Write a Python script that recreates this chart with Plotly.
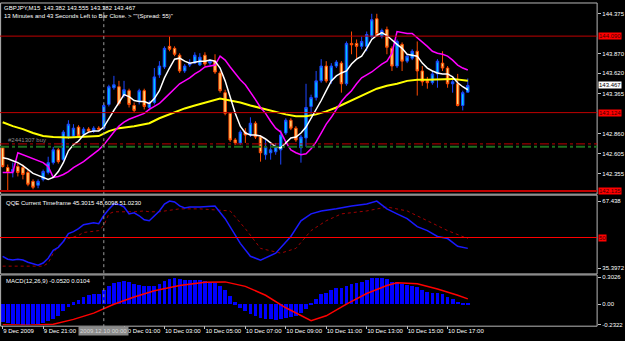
import plotly.graph_objects as go

# ---------------- data ----------------
bars = list(range(93))
opens = [142.679,142.430,142.380,142.443,142.430,142.368,142.256,142.206,142.281,142.368,
         142.492,142.654,142.530,142.816,142.828,142.941,142.853,142.916,142.891,142.928,
         142.928,143.227,143.438,143.451,143.339,143.401,143.214,143.264,143.401,143.189,
         143.252,143.600,143.700,143.961,143.936,143.849,143.650,143.725,143.749,143.725,
         143.849,143.749,143.774,143.625,143.376,143.115,142.779,142.741,142.878,142.841,
         142.990,142.816,142.592,142.617,142.629,142.654,142.866,143.028,142.928,142.679,
         142.804,143.202,143.314,143.525,143.712,143.525,143.712,143.749,143.488,143.998,
         143.998,143.961,143.961,144.085,144.309,144.085,144.173,143.936,143.712,143.986,
         143.774,143.812,143.899,143.650,143.525,143.501,143.613,143.749,143.687,143.488,
         143.488,143.214,143.382]
highs = [142.704,142.468,142.492,142.492,142.468,142.405,142.281,142.281,142.405,142.567,
         142.692,142.679,142.903,143.028,142.978,142.965,142.941,142.941,142.953,142.953,
         143.239,143.476,143.588,143.525,143.525,143.426,143.252,143.426,143.426,143.277,
         143.687,143.774,143.961,144.085,143.961,143.874,143.737,143.799,143.886,143.874,
         143.886,143.799,143.861,143.650,143.413,143.127,142.804,142.903,142.928,143.065,
         143.015,142.841,142.779,142.741,142.741,142.903,143.053,143.053,142.953,142.841,
         143.488,143.351,143.650,143.799,143.774,143.749,143.787,143.774,144.023,144.148,
         144.048,144.085,144.148,144.372,144.372,144.185,144.210,143.961,144.048,144.011,
         143.861,143.924,144.023,143.712,143.575,143.650,143.799,143.899,143.712,143.550,
         143.613,143.401,143.555]
lows = [142.430,142.132,142.306,142.318,142.281,142.194,142.156,142.169,142.256,142.343,
        142.468,142.480,142.505,142.791,142.804,142.804,142.828,142.866,142.866,142.891,
        142.903,143.202,143.413,143.214,143.314,143.189,143.127,143.227,143.164,143.152,
        143.227,143.563,143.675,143.899,143.837,143.625,143.625,143.700,143.737,143.712,
        143.712,143.725,143.613,143.376,143.090,142.754,142.717,142.717,142.741,142.816,
        142.791,142.505,142.530,142.530,142.592,142.468,142.841,142.903,142.754,142.492,
        142.692,143.090,143.277,143.501,143.501,143.488,143.687,143.376,143.463,143.861,
        143.812,143.924,143.899,144.061,144.085,144.061,143.861,143.650,143.687,143.650,
        143.749,143.787,143.339,143.463,143.426,143.476,143.438,143.650,143.438,143.376,
        143.202,143.152,143.382]
closes = [142.443,142.368,142.405,142.368,142.343,142.219,142.181,142.256,142.380,142.492,
          142.654,142.505,142.878,142.978,142.928,142.828,142.916,142.891,142.928,142.916,
          143.214,143.451,143.476,143.239,143.413,143.227,143.152,143.401,143.202,143.239,
          143.575,143.712,143.936,143.924,143.861,143.650,143.712,143.749,143.849,143.824,
          143.737,143.774,143.637,143.401,143.115,142.779,142.741,142.878,142.841,142.990,
          142.816,142.617,142.692,142.654,142.692,142.841,143.028,142.928,142.779,142.816,
          143.189,143.314,143.525,143.712,143.525,143.712,143.762,143.488,143.998,143.980,
          143.961,144.023,144.110,144.297,144.110,144.160,143.949,143.712,144.023,143.774,
          143.837,143.899,143.650,143.513,143.501,143.613,143.774,143.687,143.488,143.513,
          143.214,143.376,143.467]

white_ma = [142.555,142.542,142.517,142.492,142.455,142.405,142.356,142.331,142.306,142.281,
            142.306,142.380,142.492,142.642,142.717,142.766,142.841,142.878,142.891,142.891,
            142.941,143.053,143.152,143.252,143.351,143.326,143.277,143.264,143.264,143.239,
            143.301,143.401,143.563,143.687,143.799,143.812,143.774,143.749,143.762,143.774,
            143.774,143.787,143.774,143.687,143.525,143.314,143.115,142.953,142.866,142.841,
            142.841,142.828,142.791,142.741,142.692,142.679,142.741,142.804,142.816,142.866,
            142.941,143.053,143.152,143.277,143.401,143.525,143.588,143.625,143.650,143.737,
            143.799,143.837,143.936,144.048,144.098,144.135,144.098,144.036,143.986,143.936,
            143.861,143.849,143.837,143.749,143.687,143.650,143.625,143.613,143.613,143.575,
            143.501,143.451,143.413]
magenta_ma = [142.368,142.368,142.368,142.617,142.592,142.567,142.542,142.517,142.492,142.443,
              142.306,142.318,142.343,142.380,142.430,142.468,142.505,142.555,142.604,142.654,
              142.717,142.804,142.878,142.953,143.003,143.040,143.065,143.090,143.115,143.164,
              143.202,143.239,143.301,143.364,143.426,143.488,143.525,143.563,143.613,143.650,
              143.700,143.712,143.725,143.837,143.787,143.700,143.613,143.538,143.476,143.389,
              143.289,143.189,143.115,143.015,142.928,142.878,142.754,142.654,142.617,142.592,
              142.604,142.667,142.754,142.866,142.978,143.065,143.164,143.264,143.339,143.401,
              143.488,143.563,143.600,143.637,143.687,143.737,143.774,143.874,144.148,144.135,
              144.123,144.123,144.073,144.023,143.961,143.899,143.874,143.861,143.837,143.787,
              143.725,143.687,143.662]
yellow_bar = [0,2,4,6,8,10,13,17,19,21,23,26,29,31,34,36,38,40,42,43,45,47,49,52,54,56,58,60,
              62,64,66,69,71,74,76,78,80,82,84,87,89,92]
yellow_ma = [143.003,142.953,142.916,142.866,142.828,142.816,142.810,142.816,142.828,142.891,
             142.928,142.953,142.990,143.053,143.127,143.177,143.214,143.252,143.289,143.301,
             143.277,143.252,143.214,143.164,143.127,143.102,143.077,143.077,143.102,143.140,
             143.189,143.277,143.339,143.426,143.463,143.488,143.525,143.538,143.538,143.550,
             143.550,143.525]

level_lines = [144.090, 143.124, 142.135]
level_labels = ["144.090", "143.124", "142.135"]
order_levels = [142.729, 142.692]          # pending order / stop levels (dash-dot)
order_label = "#2441307 buy"
bid_price = 143.467

price_ticks = [144.375, 143.870, 143.620, 143.365, 142.860, 142.605, 142.355]
price_tick_text = ["144.375", "143.870", "143.620", "143.365", "142.860", "142.605", "142.355"]

qqe_bar = [0,1,2,3,4,5,7,8,9,10,11,12,13,14,15,16,17,18,19,20,21,22,23,24,25,26,27,28,29,30,
           31,32,33,34,35,36,37,39,42,44,47,49,51,54,57,59,61,63,66,69,72,74,76,78,80,82,84,
           86,88,90,92]
qqe_main = [41.0,39.6,39.2,39.6,39.2,38.2,36.8,37.8,40.1,43.9,45.3,48.1,51.9,52.8,54.2,56.1,
            56.6,57.1,56.6,60.5,63.5,66.0,65.8,64.6,61.3,61.8,60.4,58.5,58.0,60.4,62.7,66.0,
            67.4,67.0,65.1,64.1,64.6,64.6,65.1,59.0,47.2,41.0,39.2,42.5,50.5,58.0,61.3,62.7,
            63.7,65.1,66.0,67.4,63.7,61.3,59.0,55.2,53.3,50.5,49.5,45.8,44.8]
qqe_sig_bar = [0,8,9,10,11,12,13,15,16,18,19,20,21,22,26,28,29,31,32,34,35,39,45,48,51,55,58,
               61,64,67,72,76,80,84,88,92]
qqe_signal = [36.3,36.3,37.8,42.5,45.8,48.1,49.5,51.0,52.4,52.8,53.3,55.7,61.3,62.3,62.3,62.7,
              62.3,62.3,62.7,63.2,63.7,63.7,62.7,54.2,44.8,42.5,44.8,53.3,58.0,61.3,62.7,64.6,
              62.7,58.0,53.3,49.5]
qqe_level = 50
qqe_ticks = [67.438, 35.3972]
qqe_tick_text = ["67.438", "35.3972"]

macd_hist = [-0.20,-0.21,-0.22,-0.22,-0.23,-0.23,-0.22,-0.22,-0.21,-0.19,
             -0.16,-0.13,-0.08,-0.03,0.02,0.05,0.08,0.10,0.11,0.12,
             0.16,0.21,0.24,0.25,0.26,0.25,0.23,0.22,0.21,0.20,
             0.21,0.23,0.26,0.28,0.29,0.28,0.27,0.27,0.27,0.27,
             0.26,0.25,0.24,0.21,0.16,0.09,0.02,-0.04,-0.08,-0.11,
             -0.13,-0.15,-0.16,-0.17,-0.18,-0.17,-0.15,-0.14,-0.13,-0.10,
             -0.05,0.01,0.06,0.11,0.13,0.16,0.18,0.18,0.21,0.23,
             0.24,0.25,0.27,0.29,0.30,0.30,0.28,0.25,0.25,0.23,
             0.22,0.21,0.19,0.16,0.14,0.13,0.13,0.11,0.08,0.06,
             0.03,0.01,0.01]
macd_sig_bar = [0,5,10,14,18,22,26,30,35,40,44,48,52,56,61,64,68,72,76,78,82,86,90,92]
macd_signal = [-0.23,-0.235,-0.225,-0.17,-0.10,0.0,0.08,0.15,0.21,0.245,0.25,0.20,0.10,
               -0.04,-0.185,-0.13,0.0,0.12,0.21,0.24,0.23,0.17,0.10,0.06]
macd_ticks = [0.3026, 0.0, -0.2322]
macd_tick_text = ["0.3026", "0.00", "-0.2322"]

time_tick_bar = [0, 8, 24, 32, 40, 48, 56, 64, 72, 80, 88]
time_tick_text = ["9 Dec 2009", "9 Dec 21:00", "10 Dec 01:00", "10 Dec 03:00", "10 Dec 05:00",
                  "10 Dec 07:00", "10 Dec 09:00", "10 Dec 11:00", "10 Dec 13:00",
                  "10 Dec 15:00", "10 Dec 17:00"]
cursor_bar = 20
cursor_text = "2009.12.10 00:00"

header1 = "GBPJPY,M15  143.382 143.555 143.382 143.467"
header2 = "13 Minutes and 43 Seconds Left to Bar Close. > \"\"(Spread: 55)\""
qqe_title = "QQE Current Timeframe 45.3015 48.6098 51.0230"
macd_title = "MACD(12,26,9) -0.0520 0.0104"

# ---------------- figure ----------------
W, H = 625, 341
FONT = "Liberation Sans"
FS = 6
XR = 0.96

def py(p):
    return 1 - p / H

fig = go.Figure()

fig.add_trace(go.Candlestick(
    x=bars, open=opens, high=highs, low=lows, close=closes,
    increasing=dict(line=dict(color="#1e46ff", width=1), fillcolor="#00c8ff"),
    decreasing=dict(line=dict(color="#ff4a00", width=1), fillcolor="#ffd878"),
    whiskerwidth=0, xaxis="x", yaxis="y", hoverinfo="skip", showlegend=False))

fig.add_trace(go.Scatter(x=yellow_bar, y=yellow_ma, mode="lines",
                         line=dict(color="#ffff00", width=2), xaxis="x", yaxis="y"))
fig.add_trace(go.Scatter(x=bars, y=magenta_ma, mode="lines",
                         line=dict(color="#ff00ff", width=1.5), xaxis="x", yaxis="y"))
fig.add_trace(go.Scatter(x=bars, y=white_ma, mode="lines",
                         line=dict(color="#ffffff", width=1.5), xaxis="x", yaxis="y"))

fig.add_trace(go.Scatter(x=qqe_sig_bar, y=qqe_signal, mode="lines",
                         line=dict(color="#a00000", width=1, dash="dot"), xaxis="x", yaxis="y2"))
fig.add_trace(go.Scatter(x=qqe_bar, y=qqe_main, mode="lines",
                         line=dict(color="#1a1aff", width=1.5), xaxis="x", yaxis="y2"))

fig.add_trace(go.Bar(x=bars, y=macd_hist, marker=dict(color="#0000ff", line=dict(width=0)),
                     width=0.75, xaxis="x", yaxis="y3"))
fig.add_trace(go.Scatter(x=macd_sig_bar, y=macd_signal, mode="lines",
                         line=dict(color="#ff0000", width=1.5), xaxis="x", yaxis="y3"))

axis_font = dict(family=FONT, size=FS, color="#ffffff")
common_y = dict(side="right", anchor="x", showgrid=False, zeroline=False, ticks="outside",
                ticklen=3, tickcolor="#c0c0c0", tickfont=axis_font, showline=False)

fig.update_layout(
    width=W, height=H, margin=dict(l=0, r=0, t=0, b=0),
    paper_bgcolor="#000000", plot_bgcolor="#000000", showlegend=False,
    bargap=0,
    xaxis=dict(domain=[0, XR], range=[-0.531, 117.58], anchor="y3",
               tickvals=time_tick_bar, ticktext=time_tick_text, ticks="outside",
               ticklen=3, tickcolor="#c0c0c0", ticklabelposition="outside right",
               tickangle=0, tickfont=axis_font, showgrid=False, zeroline=False,
               showline=False, rangeslider=dict(visible=False)),
    yaxis=dict(domain=[py(194), py(2)], range=[142.107, 144.496],
               tickvals=price_ticks, ticktext=price_tick_text, **common_y),
    yaxis2=dict(domain=[py(275), py(197)], range=[33.04, 69.79],
                tickvals=qqe_ticks, ticktext=qqe_tick_text, **common_y),
    yaxis3=dict(domain=[py(328), py(278)], range=[-0.2352, 0.3168],
                tickvals=macd_ticks, ticktext=macd_tick_text, **common_y),
)

shapes = []
# panel frames
for top, bot in [(1, 195), (196, 276), (277, 329)]:
    shapes.append(dict(type="rect", xref="paper", yref="paper", x0=0.001, x1=XR,
                       y0=py(bot), y1=py(top), line=dict(color="#b8b8b8", width=1)))
# horizontal price levels
for i, lv in enumerate(level_lines):
    shapes.append(dict(type="line", xref="paper", yref="y", x0=0, x1=XR, y0=lv, y1=lv,
                       line=dict(color="#c00000", width=2 if i == 2 else 1)))
shapes.append(dict(type="line", xref="paper", yref="y", x0=0, x1=XR,
                   y0=order_levels[0], y1=order_levels[0],
                   line=dict(color="#c00000", width=1, dash="dashdot")))
shapes.append(dict(type="line", xref="paper", yref="y", x0=0, x1=XR,
                   y0=order_levels[1], y1=order_levels[1],
                   line=dict(color="#1e6e1e", width=2, dash="dashdot")))
shapes.append(dict(type="line", xref="paper", yref="y2", x0=0, x1=XR,
                   y0=qqe_level, y1=qqe_level, line=dict(color="#ff0000", width=1)))
# cursor line
shapes.append(dict(type="line", xref="x", yref="paper", x0=cursor_bar, x1=cursor_bar,
                   y0=py(330), y1=1, line=dict(color="#9a9a9a", width=1, dash="dot")))
fig.update_layout(shapes=shapes)

ann = []
ann.append(dict(xref="paper", yref="paper", x=0.004, y=py(1.5), xanchor="left", yanchor="top",
                text=header1, showarrow=False, font=dict(family=FONT, size=FS, color="#ffffff")))
ann.append(dict(xref="paper", yref="paper", x=0.004, y=py(9.5), xanchor="left", yanchor="top",
                text=header2, showarrow=False, font=dict(family=FONT, size=FS, color="#ffffff")))
ann.append(dict(xref="paper", yref="paper", x=0.006, y=py(204), xanchor="left", yanchor="middle",
                text=qqe_title, showarrow=False, font=dict(family=FONT, size=FS, color="#ffffff")))
ann.append(dict(xref="paper", yref="paper", x=0.006, y=py(283), xanchor="left", yanchor="middle",
                text=macd_title, showarrow=False, font=dict(family=FONT, size=FS, color="#ffffff")))
ann.append(dict(xref="paper", yref="y", x=0.01, y=order_levels[0], xanchor="left",
                yanchor="bottom", yshift=-1, text=order_label, showarrow=False,
                font=dict(family=FONT, size=FS, color="#8c8c8c")))
for lv, txt in zip(level_lines, level_labels):
    ann.append(dict(xref="paper", yref="y", x=XR, y=lv, xanchor="left", yanchor="middle",
                    text=txt, showarrow=False, bgcolor="#ff0000", borderpad=0, xshift=1,
                    font=dict(family=FONT, size=FS, color="#400000")))
ann.append(dict(xref="paper", yref="y", x=XR, y=bid_price, xanchor="left", yanchor="middle",
                text=f"{bid_price:.3f}", showarrow=False, bgcolor="#ffffff", borderpad=0,
                xshift=1, font=dict(family=FONT, size=FS, color="#000000")))
ann.append(dict(xref="paper", yref="y2", x=XR, y=qqe_level, xanchor="left", yanchor="middle",
                text=str(qqe_level), showarrow=False, bgcolor="#ff0000", borderpad=0, xshift=1,
                font=dict(family=FONT, size=FS, color="#400000")))
ann.append(dict(xref="x", yref="paper", x=cursor_bar, y=py(334), xanchor="center",
                yanchor="middle", text=cursor_text, showarrow=False, bgcolor="#8a8a8a",
                borderpad=1, font=dict(family=FONT, size=FS, color="#d8d8d8")))
fig.update_layout(annotations=ann)

fig.write_html("out.html")
